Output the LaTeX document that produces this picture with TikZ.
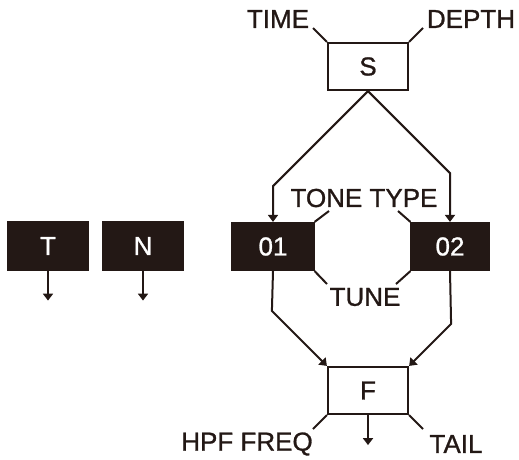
\documentclass[tikz,border=0pt]{standalone}
\usepackage{fontspec}
\setmainfont{Liberation Sans}[BoldFont={Liberation Sans},BoldFeatures={FakeBold=1.0}]
\usetikzlibrary{arrows.meta,positioning,calc}
\definecolor{ink}{RGB}{35,24,21}

\begin{document}
\begin{tikzpicture}[x=1pt,y=-1pt,
    font=\fontsize{26}{29}\selectfont\bfseries,
    block/.style={rectangle,draw=ink,line width=2.2pt,minimum width=80pt,minimum height=47pt,inner sep=0pt,text=ink},
    darkblock/.style={block,fill=ink,text=white},
    param/.style={inner sep=0pt,text=ink},
    wire/.style={draw=ink,line width=2pt},
    arrow/.style={wire,-{Triangle[width=10pt,length=7pt]}}
]
    \useasboundingbox (0,0) rectangle (519,459);

    % Blocks
    \node[block] (s) at (368,66.5) {S};
    \node[block] (f) at (368,390.5) {F};
    \node[darkblock,minimum width=81pt] (o1) at (273,246.5) {01};
    \node[darkblock,minimum width=77pt] (o2) at (450,246.5) {02};
    \node[darkblock] (t) at (48,246) {T};
    \node[darkblock] (n) at (143,246) {N};

    % Parameter labels
    \node[param] (time) at (278,19) {TIME};
    \node[param] (depth) at (471,19) {DEPTH};
    \node[param] (tonetype) at (364,198) {TONE TYPE};
    \node[param] (tune) at (365,297) {TUNE};
    \node[param] (hpf) at (247,444) {HPF FREQ};
    \node[param] (tail) at (456,444) {TAIL};

    \coordinate (timeend) at (313,28);
    \coordinate (depthend) at (423,28);
    \coordinate (tt1) at (329,211);
    \coordinate (tt2) at (398,211);
    \coordinate (tu1) at (327,284);
    \coordinate (tu2) at (396,284);
    \coordinate (hpfend) at (313,429);
    \coordinate (tailend) at (423,429);

    % Signal flow
    \draw[arrow] (s.south) -- ++(-95,95) -- (o1.north);
    \draw[arrow] (s.south) -- ++(82,82) -- (o2.north);
    \draw[arrow] (o1.south) -- ($(f.north west)+(-55,-55)$) -- (f.north west);
    \draw[arrow] (o2.south) -- ($(f.north east)+(42,-42)$) -- (f.north east);
    \foreach \b in {t,n,f} {
        \draw[arrow] (\b.south) -- ++(0,30);
    }

    % Parameter leaders
    \draw[wire] (s.north west) -- (timeend);
    \draw[wire] (s.north east) -- (depthend);
    \draw[wire] (o1.north east) -- (tt1);
    \draw[wire] (o2.north west) -- (tt2);
    \draw[wire] (o1.south east) -- (tu1);
    \draw[wire] (o2.south west) -- (tu2);
    \draw[wire] (f.south west) -- (hpfend);
    \draw[wire] (f.south east) -- (tailend);
\end{tikzpicture}
\end{document}
